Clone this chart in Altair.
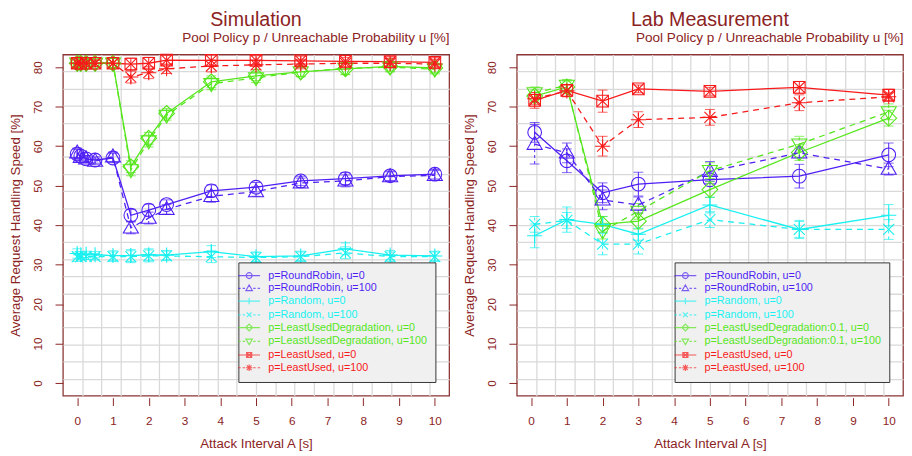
import json
import altair as alt
import pandas as pd

# ---------------- data ----------------
SIM_X = [0, 0.1, 0.25, 0.5, 1, 1.5, 2, 2.5, 3.75, 5, 6.25, 7.5, 8.75, 10]
SIM_RR_U0 = [58.0, 57.5, 56.8, 56.5, 57.0, 42.5, 43.8, 45.2, 48.7, 49.6, 51.2, 51.8, 52.5, 52.9]
SIM_RR_U100 = [58.3, 57.2, 56.8, 56.2, 57.3, 39.3, 41.8, 44.0, 47.3, 48.5, 50.7, 51.2, 52.3, 52.6]
SIM_RAND_U0 = [32.8, 32.5, 32.6, 32.5, 32.3, 32.3, 32.5, 32.4, 33.3, 32.0, 32.2, 34.0, 32.4, 32.2]
SIM_RAND_U100 = [32.0, 32.0, 32.1, 32.0, 32.0, 32.0, 32.2, 32.2, 32.0, 31.8, 32.0, 33.0, 32.0, 32.0]
SIM_LUD_U0 = [81.0, 81.0, 81.0, 81.0, 81.0, 54.8, 62.0, 68.3, 76.3, 77.8, 78.8, 79.6, 80.2, 79.8]
SIM_LUD_U100 = [81.0, 81.0, 81.0, 81.0, 81.0, 54.0, 61.3, 67.8, 75.8, 77.3, 78.8, 79.7, 80.0, 79.5]
SIM_LU_U0 = [81.0, 81.0, 81.0, 81.0, 81.0, 80.8, 81.0, 81.8, 81.7, 81.7, 81.6, 81.5, 81.4, 81.2]
SIM_LU_U100 = [81.0, 81.0, 81.0, 81.0, 81.0, 77.5, 78.6, 79.6, 80.3, 80.6, 80.8, 81.0, 81.0, 80.8]
SIM_ERR = [1.2, 0.8, 0.8, 0.8, 1.2, 1.5, 1.5, 1.2, 1.5, 1.2, 1.2, 1.5, 1.2, 1.2]

LAB_X = [0.1, 1, 2, 3, 5, 7.5, 10]
LAB_RR_U0 = [63.5, 56.3, 48.2, 50.4, 51.5, 52.4, 57.8]
LAB_RR_U100 = [60.5, 58.3, 46.4, 45.1, 53.6, 58.3, 54.2]
LAB_RAND_U0 = [37.3, 41.4, 40.2, 37.7, 45.1, 38.9, 42.5]
LAB_RAND_U100 = [40.2, 41.2, 35.2, 35.2, 41.4, 38.9, 38.9]
LAB_LUD_U0 = [72.7, 75.0, 40.2, 41.0, 49.0, 58.4, 67.1]
LAB_LUD_U100 = [73.5, 75.4, 38.5, 43.5, 53.8, 60.5, 68.7]
LAB_LU_U0 = [71.6, 74.1, 71.4, 74.5, 73.9, 74.9, 72.9]
LAB_LU_U100 = [72.0, 74.0, 60.0, 66.7, 67.3, 71.0, 72.5]

LAB_RR_U0_ERR = [2.5, 3.0, 2.5, 3.0, 1.0, 3.0, 3.0]
LAB_RR_U100_ERR = [5.0, 2.5, 2.5, 2.0, 2.5, 1.2, 1.5]
LAB_RAND_U0_ERR = [3.0, 3.2, 2.0, 1.5, 2.0, 2.3, 2.7]
LAB_RAND_U100_ERR = [2.0, 2.0, 2.7, 2.5, 2.0, 2.0, 2.5]
LAB_LUD_U0_ERR = [1.5, 1.5, 2.0, 2.0, 2.0, 2.0, 2.0]
LAB_LUD_U100_ERR = [1.5, 1.5, 2.0, 2.0, 2.0, 2.0, 2.0]
LAB_LU_U0_ERR = [2.0, 1.5, 2.8, 1.0, 1.0, 1.5, 1.5]
LAB_LU_U100_ERR = [1.5, 1.5, 2.5, 2.0, 2.0, 2.0, 1.0]

SIM_LABELS = ["p=RoundRobin, u=0", "p=RoundRobin, u=100", "p=Random, u=0", "p=Random, u=100",
              "p=LeastUsedDegradation, u=0", "p=LeastUsedDegradation, u=100",
              "p=LeastUsed, u=0", "p=LeastUsed, u=100"]
LAB_LABELS = ["p=RoundRobin, u=0", "p=RoundRobin, u=100", "p=Random, u=0", "p=Random, u=100",
              "p=LeastUsedDegradation:0.1, u=0", "p=LeastUsedDegradation:0.1, u=100",
              "p=LeastUsed, u=0", "p=LeastUsed, u=100"]
X_TICKS = list(range(11))
Y_TICKS = [0, 10, 20, 30, 40, 50, 60, 70, 80]

# ---------------- styles ----------------
FONT = "Liberation Sans"
TXT = "#8b2323"
FRAME = "#8b3535"
GRIDC = "#d9d9d9"
BLUE, CYAN, GREEN, RED = "#4f1ff5", "#19f0f0", "#55e61c", "#f81a1a"
COLORS = [BLUE, BLUE, CYAN, CYAN, GREEN, GREEN, RED, RED]

M_CIRCLE = "M1,0A1,1,0,1,1,-1,0A1,1,0,1,1,1,0Z"
M_TRIUP = "M0,-1.15L1.1,0.75L-1.1,0.75Z"
M_PLUS = "M-1.1,0H1.1M0,-1.1V1.1"
M_X = "M-0.8,-0.8L0.8,0.8M-0.8,0.8L0.8,-0.8"
M_DIAM = "M0,-1.15L1.15,0L0,1.15L-1.15,0Z"
M_TRIDN = "M0,1.15L1.1,-0.75L-1.1,-0.75Z"
M_SQX = "M-0.85,-0.85H0.85V0.85H-0.85ZM-0.85,-0.85L0.85,0.85M-0.85,0.85L0.85,-0.85"
M_AST = "M-1.1,0H1.1M0,-1.1V1.1M-0.8,-0.8L0.8,0.8M-0.8,0.8L0.8,-0.8"
MARKERS = [M_CIRCLE, M_TRIUP, M_PLUS, M_X, M_DIAM, M_TRIDN, M_SQX, M_AST]

L_SOLID = "M-3.7,0H3.7"
L_DASH = "M-3.7,0H-2.9M-2.2,0H-1.4M1.4,0H2.2M2.9,0H3.7"
LEG_PATHS = [(L_DASH if i % 2 else L_SOLID) + m for i, m in enumerate(MARKERS)]

GRID_X = [round(-0.4 + 0.54 * k, 3) for k in range(1, 20)]
GRID_Y = [round(-3.2 + 4.32 * k, 3) for k in range(1, 20)]
SUB = "Pool Policy p / Unreachable Probability u [%]"


def make_panel(title, xs, series, errs, labels):
    rows = []
    for i, (lab, ys, es) in enumerate(zip(labels, series, errs)):
        for x, y, e in zip(xs, ys, es):
            rows.append({"series": lab, "x": x, "y": y, "lo": y - e, "hi": y + e,
                         "dashed": bool(i % 2), "color": COLORS[i], "marker": MARKERS[i]})
    df = pd.DataFrame(rows)
    base = alt.Chart(df)
    xsc = alt.Scale(domain=[-0.4, 10.4], nice=False, zero=False)
    ysc = alt.Scale(domain=[-3.2, 83.2], nice=False, zero=False)
    col = alt.Color("color:N", scale=None)

    x_grid = alt.X("x:Q", scale=xsc, axis=alt.Axis(
        orient="top", values=GRID_X, grid=True, gridColor=GRIDC, gridWidth=1.3,
        labels=False, ticks=False, domain=False, title=SUB, titleAnchor="end",
        titleFont=FONT, titleFontSize=13.8, titleFontWeight="normal", titleColor=TXT,
        titlePadding=10))
    y_grid = alt.Y("lo:Q", scale=ysc, axis=alt.Axis(
        orient="right", values=GRID_Y, grid=True, gridColor=GRIDC, gridWidth=1.3,
        labels=False, ticks=False, domain=False, title=None, minExtent=0, maxExtent=0))
    x_main = alt.X("x:Q", scale=xsc, axis=alt.Axis(
        orient="bottom", values=X_TICKS, grid=False, domain=False, tickSize=8,
        tickColor=TXT, tickWidth=1, offset=2, labelFont=FONT, labelFontSize=12,
        labelColor=TXT, labelPadding=10, labelFlush=False, title="Attack Interval A [s]",
        titleFont=FONT, titleFontSize=13.5, titleFontWeight="normal", titleColor=TXT,
        titlePadding=11))
    y_main = alt.Y("y:Q", scale=ysc, axis=alt.Axis(
        orient="left", values=Y_TICKS, grid=False, domain=False, tickSize=8,
        tickColor=TXT, tickWidth=1, labelAngle=-90, labelFont=FONT, labelFontSize=12,
        labelColor=TXT, labelPadding=11, title="Average Request Handling Speed [%]",
        titleFont=FONT, titleFontSize=13.5, titleFontWeight="normal", titleColor=TXT,
        titlePadding=9))
    x_n = alt.X("x:Q", scale=xsc, axis=None)

    solid = base.transform_filter("!datum.dashed")
    dashed = base.transform_filter("datum.dashed")

    err_s = solid.mark_rule(strokeWidth=1).encode(x=x_grid, y=y_grid, y2="hi:Q", color=col)
    err_d = dashed.mark_rule(strokeWidth=1, strokeDash=[3, 3]).encode(
        x=x_n, y=alt.Y("lo:Q", scale=ysc, axis=None), y2="hi:Q", color=col)
    cap_lo = base.mark_tick(orient="horizontal", size=10, thickness=1).encode(
        x=x_n, y=alt.Y("lo:Q", scale=ysc, axis=None), color=col)
    cap_hi = base.mark_tick(orient="horizontal", size=10, thickness=1).encode(
        x=x_n, y=alt.Y("hi:Q", scale=ysc, axis=None), color=col)
    line_s = solid.mark_line(strokeWidth=1.3).encode(
        x=x_main, y=y_main, color=col, detail="series:N")
    line_d = dashed.mark_line(strokeWidth=1.3, strokeDash=[6, 5]).encode(
        x=x_n, y=alt.Y("y:Q", scale=ysc, axis=None), color=col, detail="series:N")
    pts = base.mark_point(filled=False, size=196, strokeWidth=1.1, opacity=1).encode(
        x=x_n, y=alt.Y("y:Q", scale=ysc, axis=None), color=col,
        shape=alt.Shape("marker:N", scale=None))

    expr = "%s[indexof(%s, datum.label)]" % (json.dumps(COLORS), json.dumps(labels))
    leg = alt.Legend(title=None, orient="bottom-right", offset=14, fillColor="#f0f0f0",
                     strokeColor="#333333", padding=8, symbolSize=36, symbolStrokeWidth=1.2,
                     symbolFillColor="transparent", symbolOffset=-2.5, labelOffset=14,
                     labelFont=FONT, labelFontSize=11, labelLimit=400,
                     labelColor=alt.ExprRef(expr), rowPadding=1)
    dummy = base.transform_filter("false").mark_point(filled=False).encode(
        x=x_n, y=alt.Y("y:Q", scale=ysc, axis=None),
        color=alt.Color("series:N", scale=alt.Scale(domain=labels, range=COLORS), legend=leg),
        shape=alt.Shape("series:N", scale=alt.Scale(domain=labels, range=LEG_PATHS), legend=leg))

    return alt.layer(err_s, err_d, cap_lo, cap_hi, line_s, line_d, pts, dummy).resolve_axis(
        x="independent", y="independent").properties(
        width=394, height=348,
        title=alt.TitleParams(title, font=FONT, fontSize=20, fontWeight="normal",
                              color=TXT, anchor="middle", offset=1))


sim = make_panel("Simulation", SIM_X,
                 [SIM_RR_U0, SIM_RR_U100, SIM_RAND_U0, SIM_RAND_U100,
                  SIM_LUD_U0, SIM_LUD_U100, SIM_LU_U0, SIM_LU_U100],
                 [SIM_ERR] * 8, SIM_LABELS)
lab = make_panel("Lab Measurement", LAB_X,
                 [LAB_RR_U0, LAB_RR_U100, LAB_RAND_U0, LAB_RAND_U100,
                  LAB_LUD_U0, LAB_LUD_U100, LAB_LU_U0, LAB_LU_U100],
                 [LAB_RR_U0_ERR, LAB_RR_U100_ERR, LAB_RAND_U0_ERR, LAB_RAND_U100_ERR,
                  LAB_LUD_U0_ERR, LAB_LUD_U100_ERR, LAB_LU_U0_ERR, LAB_LU_U100_ERR],
                 LAB_LABELS)

chart = alt.hconcat(sim, lab, spacing=12).resolve_scale(
    color="independent", shape="independent").properties(
    padding={"top": -3, "left": 0, "right": 0, "bottom": 0}).configure(
    font=FONT, background="white").configure_view(stroke=FRAME, strokeWidth=1.3)

chart.save("out.html", embed_options={"renderer": "svg", "actions": False})
